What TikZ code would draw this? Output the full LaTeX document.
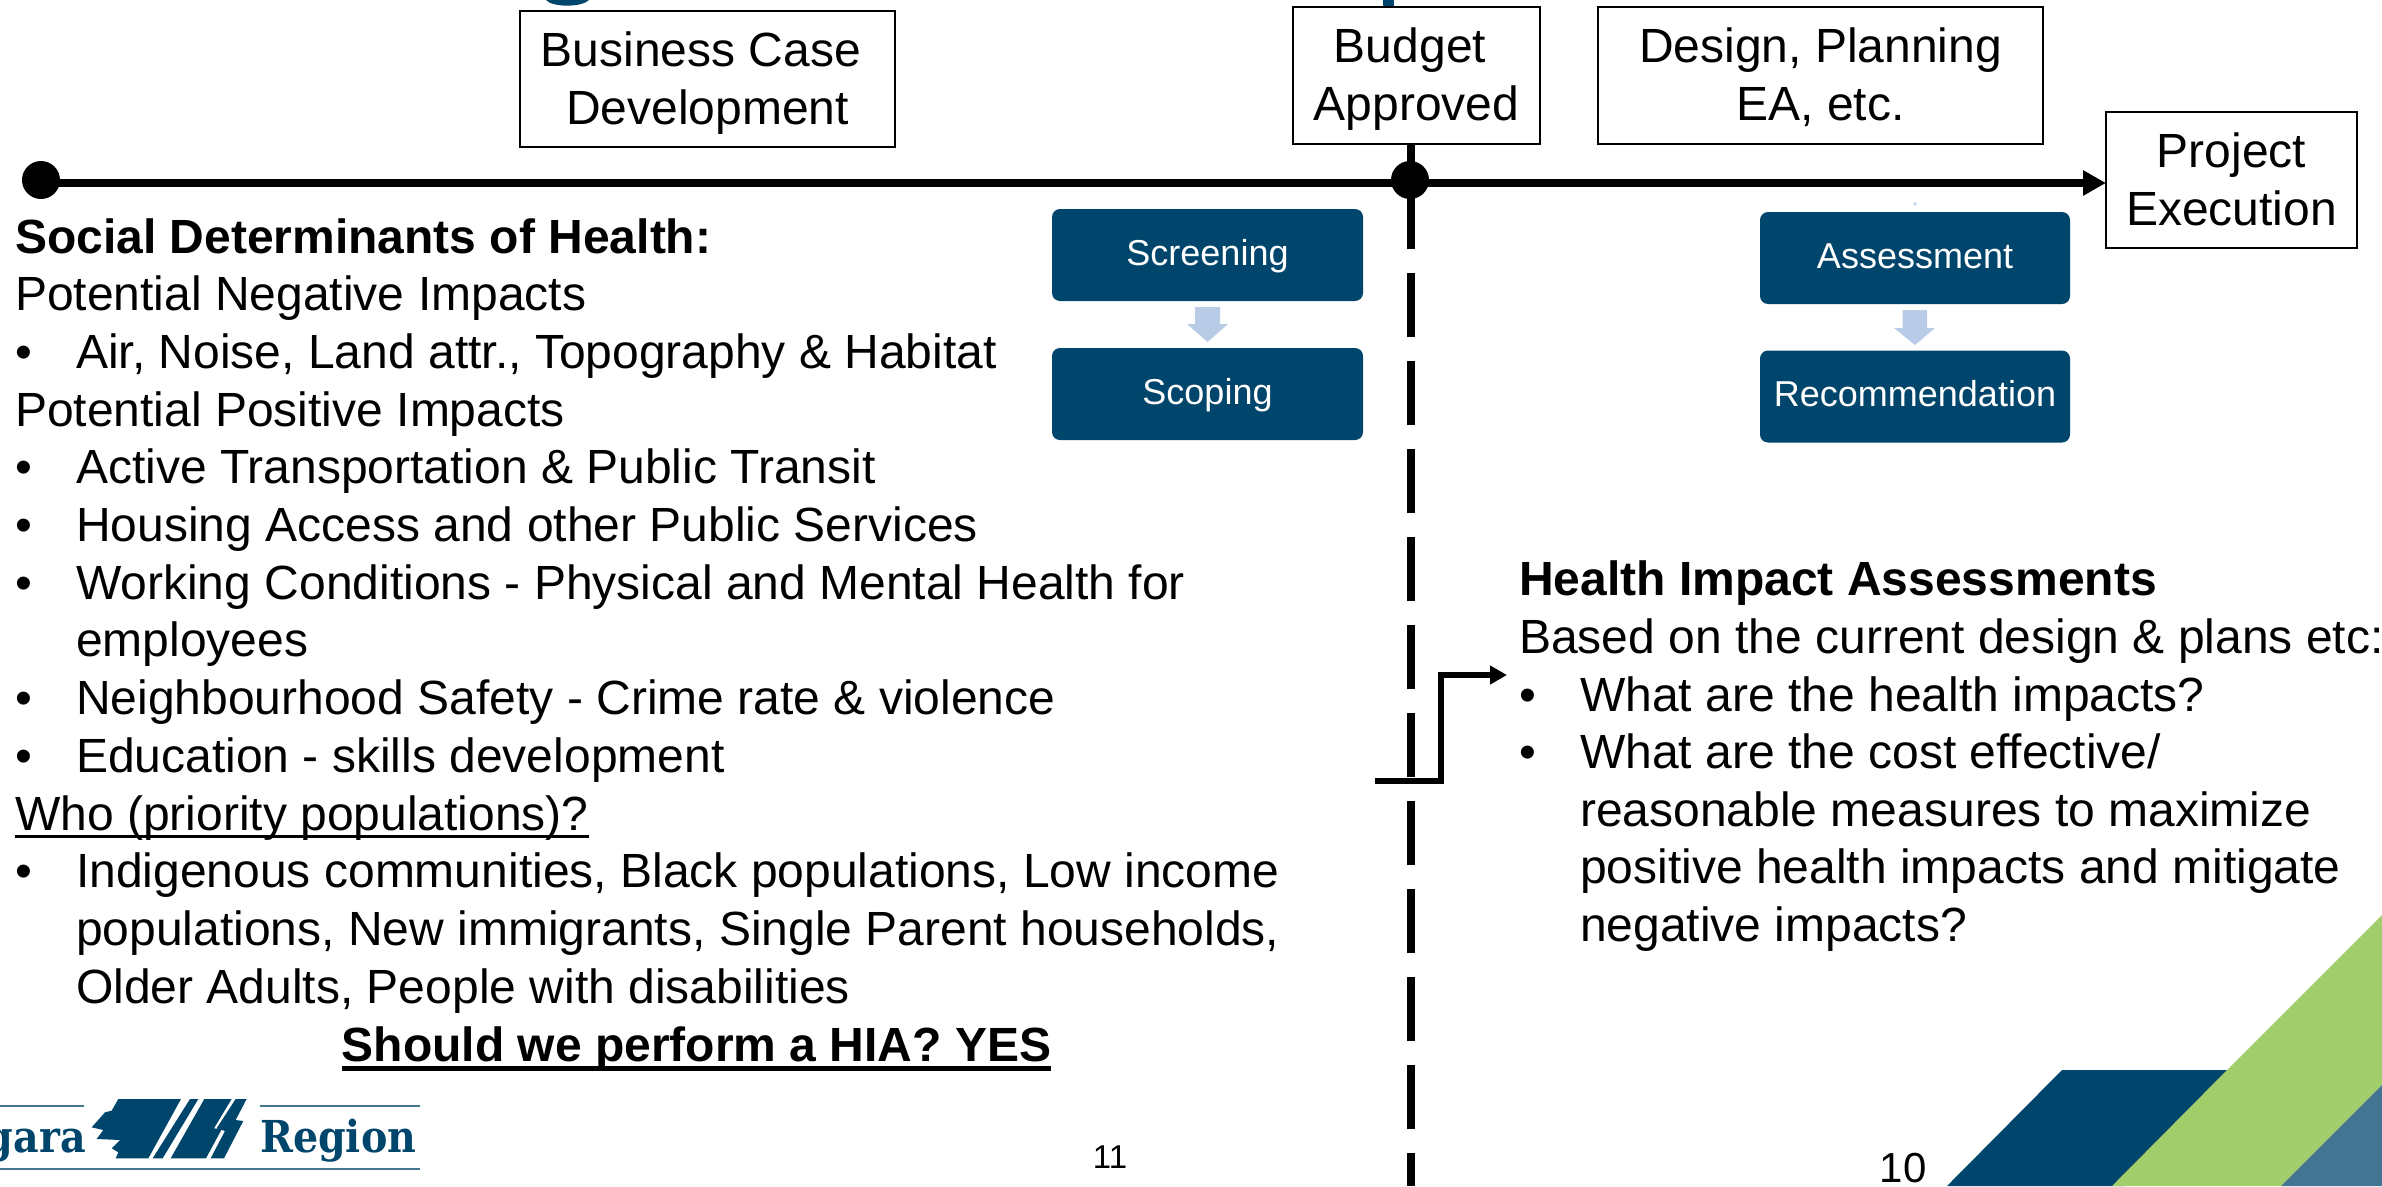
\documentclass[tikz,border=0pt]{standalone}
\usepackage{fontspec}
\setmainfont{Liberation Sans}
\newfontfamily\logofont{DejaVu Serif Condensed}[BoldFont=* Bold]
\usetikzlibrary{arrows.meta}
\definecolor{navy}{HTML}{00456B}
\definecolor{leaf}{HTML}{A1CE6A}
\definecolor{steel}{HTML}{437491}
\definecolor{pale}{HTML}{B8CCE8}
\newcommand\twolines[2]{\rule{0pt}{44pt}#1\\\rule[-12pt]{0pt}{12pt}#2}
\newcommand\bul{\makebox[61pt][l]{•}}
\newcommand\ulin[3]{\setbox0=\hbox{#3}\rlap{\rule[-#1]{\wd0}{#2}}\box0}
\tikzset{
  x=1pt,y=-1pt,
  boxed/.style={draw=black,line width=2pt,fill=white,align=center,inner sep=0pt,font=\fontsize{48}{58}\selectfont},
  bluebox/.style={fill=navy,rounded corners=8pt,text=white,inner sep=0pt,minimum width=#1,minimum height=92pt,text height=20pt,text depth=0pt,font=\fontsize{36}{42}\selectfont},
  ln/.style={anchor=base west,inner sep=0pt,font=\fontsize{48}{58}\selectfont},
  timeline/.style={line width=8pt,draw=black},
  stage/.style={fill=black,circle,inner sep=0pt,minimum size=38pt},
  elbow/.style={line width=6pt,draw=black,-{Triangle[length=17pt,width=18pt]}},
  pagenum/.style={anchor=base,inner sep=0pt},
  downarrow/.style={fill=pale,draw=none},
  logoshape/.style={fill=navy,draw=none},
  logorule/.style={draw=steel,line width=2pt},
  logotext/.style={inner sep=0pt,text=navy,font=\logofont\bfseries\fontsize{44}{50}\selectfont}
}
\begin{document}
\begin{tikzpicture}
\useasboundingbox (0,0) rectangle (2382,1186);
\clip (0,0) rectangle (2382,1186);
\fill[white] (0,0) rectangle (2382,1186);
% remnants of the cropped title
\fill[navy] (546,0) .. controls (552,7.5) and (582,7.5) .. (589,0) -- cycle;
\fill[navy] (1383,0) rectangle (1394,7);
% corner shapes
\fill[navy] (1947,1186) -- (2062,1070) -- (2240,1070) -- (2125,1186) -- cycle;
\fill[leaf] (2112,1186) -- (2227,1070) -- (2382,915) -- (2382,1085) -- (2281,1186) -- cycle;
\fill[steel] (2281,1186) -- (2382,1085) -- (2382,1186) -- cycle;
% coordinates of connectors
\coordinate (tlstart) at (41,183);
\coordinate (tlend) at (2106,183);
\coordinate (dashtop) at (1411,273);
\coordinate (dashbot) at (1411,1186);
\coordinate (solidend) at (1411,249);
\coordinate (e1) at (1375,781);
\coordinate (e2) at (1441,781);
\coordinate (e3) at (1441,675);
\coordinate (e4) at (1507,675);
% boxes
\node[boxed,minimum width=375pt,minimum height=136pt] (bc) at (707.5,79) {\twolines{Business Case\hspace*{13pt}}{Development}};
\node[boxed,minimum width=247pt,minimum height=137pt] (ba) at (1416.5,75.5) {\twolines{Budget\hspace*{13pt}}{Approved}};
\node[boxed,minimum width=445pt,minimum height=137pt] (dp) at (1820.5,75.5) {\twolines{Design, Planning}{EA, etc.}};
\node[boxed,minimum width=251pt,minimum height=136pt] (pe) at (2231.5,180) {\twolines{Project}{Execution}};
% timeline
\draw[line width=8pt] (1411,144) -- (solidend);
\draw[line width=8pt,dash pattern=on 64pt off 24pt] (dashtop) -- (dashbot);
\draw[timeline,-{Triangle[length=23pt,width=24pt]}] (tlstart) -- (tlend);
\node[stage] (d1) at (41,180) {};
\node[stage] (d2) at (1410,180) {};
% process boxes
\node[bluebox=311pt] (scr) at (1207.5,255) {Screening};
\node[bluebox=311pt] (sco) at (1207.5,394) {Scoping};
\node[bluebox=310pt] (ass) at (1915,258) {Assessment};
\node[bluebox=310pt] (rec) at (1915,396.5) {Recommendation};
\fill[downarrow] (1195,307) -- (1220,307) -- (1220,324) -- (1228,324) -- (1207.5,342) -- (1187,324) -- (1195,324) -- cycle;
\fill[downarrow] (1902.5,310) -- (1927,310) -- (1927,328) -- (1935,328) -- (1915,345) -- (1894,328) -- (1902.5,328) -- cycle;
\fill[downarrow] (1913,202.5) -- (1917,202.5) -- (1915,206) -- cycle;
% left text
\node[ln] (l0) at (15,253) {\bfseries Social Determinants of Health:};
\node[ln] (l1) at (15,310.7) {Potential Negative Impacts};
\node[ln] (l2) at (15,368.4) {\bul Air, Noise, Land attr., Topography \& Habitat};
\node[ln] (l3) at (15,426.1) {Potential Positive Impacts};
\node[ln] (l4) at (15,483.8) {\bul Active Transportation \& Public Transit};
\node[ln] (l5) at (15,541.5) {\bul Housing Access and other Public Services};
\node[ln] (l6) at (15,599.2) {\bul Working Conditions - Physical and Mental Health for};
\node[ln] (l7) at (76,656.9) {employees};
\node[ln] (l8) at (15,714.6) {\bul Neighbourhood Safety - Crime rate \& violence};
\node[ln] (l9) at (15,772.3) {\bul Education - skills development};
\node[ln] (l10) at (15,830) {\ulin{8pt}{3pt}{Who (priority populations)?}};
\node[ln] (l11) at (15,887.7) {\bul Indigenous communities, Black populations, Low income};
\node[ln] (l12) at (76,945.4) {populations, New immigrants, Single Parent households,};
\node[ln] (l13) at (76,1003.1) {Older Adults, People with disabilities};
\node[ln,anchor=base] (l14) at (696.5,1061) {\bfseries\ulin{10pt}{5pt}{Should we perform a HIA? YES}};
% right text
\node[ln] (r0) at (1519,595) {\bfseries Health Impact Assessments};
\node[ln] (r1) at (1519,653) {Based on the current design \& plans etc:};
\node[ln] (r2) at (1519,711) {\bul What are the health impacts?};
\node[ln] (r3) at (1519,768.5) {\bul What are the cost effective/};
\node[ln] (r4) at (1580,826) {reasonable measures to maximize};
\node[ln] (r5) at (1580,883.5) {positive health impacts and mitigate};
\node[ln] (r6) at (1580,941) {negative impacts?};
% elbow connector
\draw[elbow] (e1) -- (e2) -- (e3) -- (e4);
% page numbers
\node[pagenum,font=\fontsize{33}{40}\selectfont] (p11) at (1110,1168) {11};
\node[pagenum,font=\fontsize{42}{50}\selectfont] (p10) at (1903,1182) {10};
% logo
\draw[logorule] (0,1106) -- (84,1106);
\draw[logorule] (260,1106) -- (420,1106);
\draw[logorule] (0,1169) -- (420,1169);
\node[logotext,anchor=base east] (gara) at (86,1152) {gara};
\node[logotext,anchor=base west] (region) at (260,1152) {Region};
\begin{scope}[shift={(70,1095)},x=0.3333pt,y=-0.3333pt]
\fill[logoshape] (145,12) -- (333,12) -- (235,190) -- (137,190) -- (145,172) -- (125,160) -- (150,135) -- (80,132) -- (100,105) -- (65,97) -- (105,52) -- (125,47) -- cycle;
\fill[logoshape] (360,12) -- (385,12) -- (278,190) -- (248,190) -- cycle;
\fill[logoshape] (403,12) -- (485,12) -- (432,100) -- (455,103) -- (408,190) -- (302,190) -- cycle;
\fill[logoshape] (497,12) -- (530,12) -- (497,75) -- (520,78) -- (462,190) -- (422,190) -- (465,108) -- (440,100) -- cycle;
\end{scope}
\end{tikzpicture}
\end{document}
